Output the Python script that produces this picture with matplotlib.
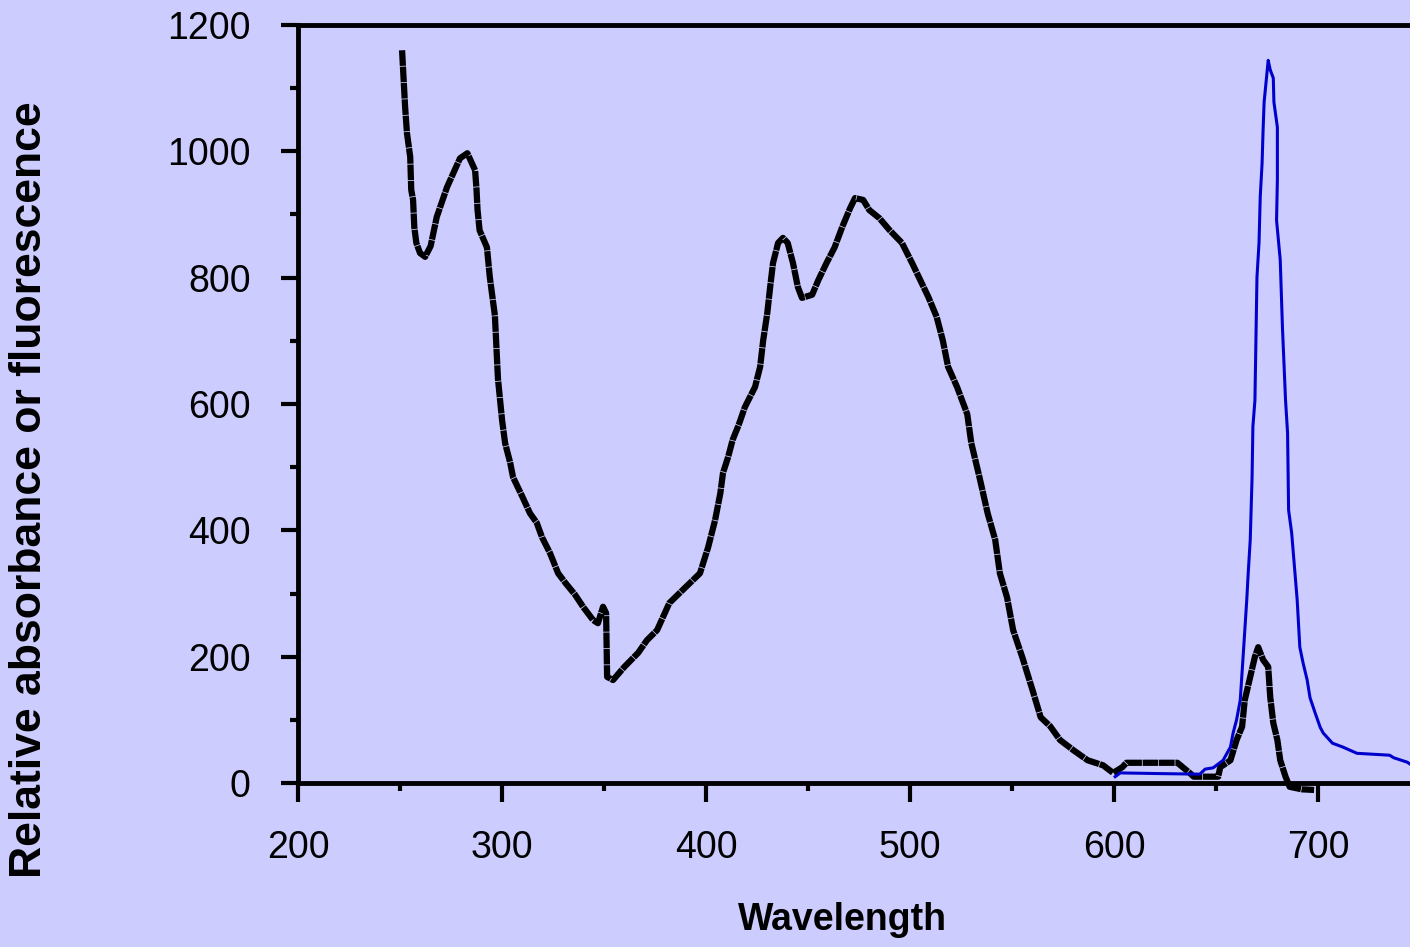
import matplotlib
matplotlib.use("Agg")
import matplotlib.pyplot as plt
from matplotlib import font_manager
from matplotlib.ticker import MultipleLocator

# absorbance (black)
abs_x = [251, 252.5, 253.4, 255, 255.5, 256.4, 257, 258, 259.8, 262.3, 265, 268, 273, 279.4, 283,
         286.8, 287.5, 288, 289, 292.6, 294, 296.5, 298, 300, 301.5, 304, 305.4, 310, 313.7, 317,
         319.6, 323.5, 327.5, 331, 335.8, 339.7, 344.6, 347, 349.5, 351, 351.5, 354.4, 360, 366.7,
         371, 376, 382, 390, 397, 401, 404.4, 407, 408.3, 410.8, 413, 416, 419, 424, 426.5, 428,
         430, 431.4, 432.8, 435.3, 437.7, 440, 442.6, 445, 447, 452, 455, 459, 463, 466.7, 470.6,
         473, 477, 480, 485, 490, 496, 501, 505, 509, 513, 516, 518.6, 523, 528, 530, 534, 538,
         541.7, 544, 547.5, 550.5, 555, 560, 564, 568.6, 573.5, 580, 587, 594.6, 599.5, 604, 606,
         615, 625, 631, 634, 637, 639, 645, 651, 652, 657, 660, 662.7, 664, 666.7, 669, 670.6,
         673, 675.5, 676.5, 678, 680, 681.4, 684, 686, 692, 698]
abs_y = [1160, 1070, 1029, 991, 939, 923, 880, 855, 839, 833, 850, 896, 943, 989, 997,
         970, 939, 907, 875, 848, 801, 740, 640, 575, 538, 507, 484, 453, 427, 412,
         389, 364, 332, 317, 298, 279, 258, 253, 279, 269, 168, 163, 184, 206,
         226, 242, 285, 310, 332, 373, 416, 459, 491, 516, 543, 567, 595, 627, 659, 701,
         744, 785, 823, 855, 863, 855, 823, 785, 768, 773, 796, 823, 848, 880, 910,
         926, 923, 907, 894, 875, 855, 823, 796, 769, 738, 701, 659, 627, 584, 538, 484, 427,
         385, 332, 294, 242, 199, 147, 104, 90, 68, 52, 36, 28, 16, 25, 32,
         32, 32, 32, 24, 16, 10, 10, 10, 25, 36, 68, 89, 131, 168, 200, 215,
         195, 184, 136, 95, 68, 36, 10, -6, -10, -11]

# fluorescence (blue)
fl_x = [600.5, 603, 620, 642, 644.6, 648.5, 653.4, 657, 658.3, 660, 661.8, 663, 665, 665.7,
        666.7, 667.6, 668, 669, 670, 671, 671.6, 672.5, 673, 673.5, 675.5, 676.5, 678, 678.3,
        680, 680, 679.6, 681.4, 682.5, 684, 685, 685.5, 687, 689.7, 691, 692.6, 694.6, 696,
        698.5, 701, 702.5, 707, 712, 719, 735, 737, 743.6, 745]
fl_y = [10, 16, 15, 14, 22, 24, 36, 57, 79, 100, 131, 190, 290, 332,
        385, 484, 564, 606, 801, 855, 928, 981, 1034, 1078, 1144, 1129, 1116, 1078,
        1038, 955, 891, 828, 720, 606, 554, 432, 396, 290, 215, 190, 163, 135,
        111, 88, 79, 63, 57, 47, 44, 40, 33, 30]

x_ticks = [200, 300, 400, 500, 600, 700]
y_ticks = [0, 200, 400, 600, 800, 1000, 1200]

installed = {f.name for f in font_manager.fontManager.ttflist}
if "Liberation Sans Narrow" in installed:
    tick_font, tick_size = "Liberation Sans Narrow", 31
else:
    tick_font, tick_size = "Liberation Sans", 27

bg = "#ccccff"
fig = plt.figure(figsize=(14.1, 9.47), dpi=100, facecolor=bg)
ax = fig.add_axes([298 / 1410, 1 - 783 / 947, 1 - 298 / 1410, (783 - 25) / 947])
ax.set_facecolor(bg)

ax.plot(abs_x, abs_y, color="black", lw=4.5, solid_capstyle="butt",
        linestyle=(0, (2.5, 0.12)), clip_on=False, zorder=3)
ax.plot(fl_x, fl_y, color="#0000cc", lw=2.2, clip_on=False, zorder=4)

ax.set_xlim(200, 745)
ax.set_ylim(0, 1200)
ax.set_xticks(x_ticks)
ax.set_yticks(y_ticks)
ax.xaxis.set_minor_locator(MultipleLocator(50))
ax.yaxis.set_minor_locator(MultipleLocator(100))

for side in ["left", "bottom", "top"]:
    ax.spines[side].set_linewidth(3.5)
ax.spines["right"].set_visible(False)

ax.tick_params(which="major", direction="out", length=12, width=3, pad=22)
ax.tick_params(which="minor", direction="out", length=6, width=3)
ax.tick_params(axis="x", which="major", length=14, pad=20)
for lab in ax.get_xticklabels() + ax.get_yticklabels():
    lab.set_fontfamily(tick_font)
    lab.set_fontsize(tick_size)

fig.text(843 / 1410, 1 - 920 / 947, "Wavelength", ha="center", va="center",
         fontsize=27, fontweight="bold", family="Liberation Sans")
fig.text(30 / 1410, 1 - 490 / 947, "Relative absorbance or fluorescence", ha="center",
         va="center", rotation=90, fontsize=32, fontweight="bold", family="Liberation Sans")

fig.savefig("out.png", dpi=100, facecolor=bg)
